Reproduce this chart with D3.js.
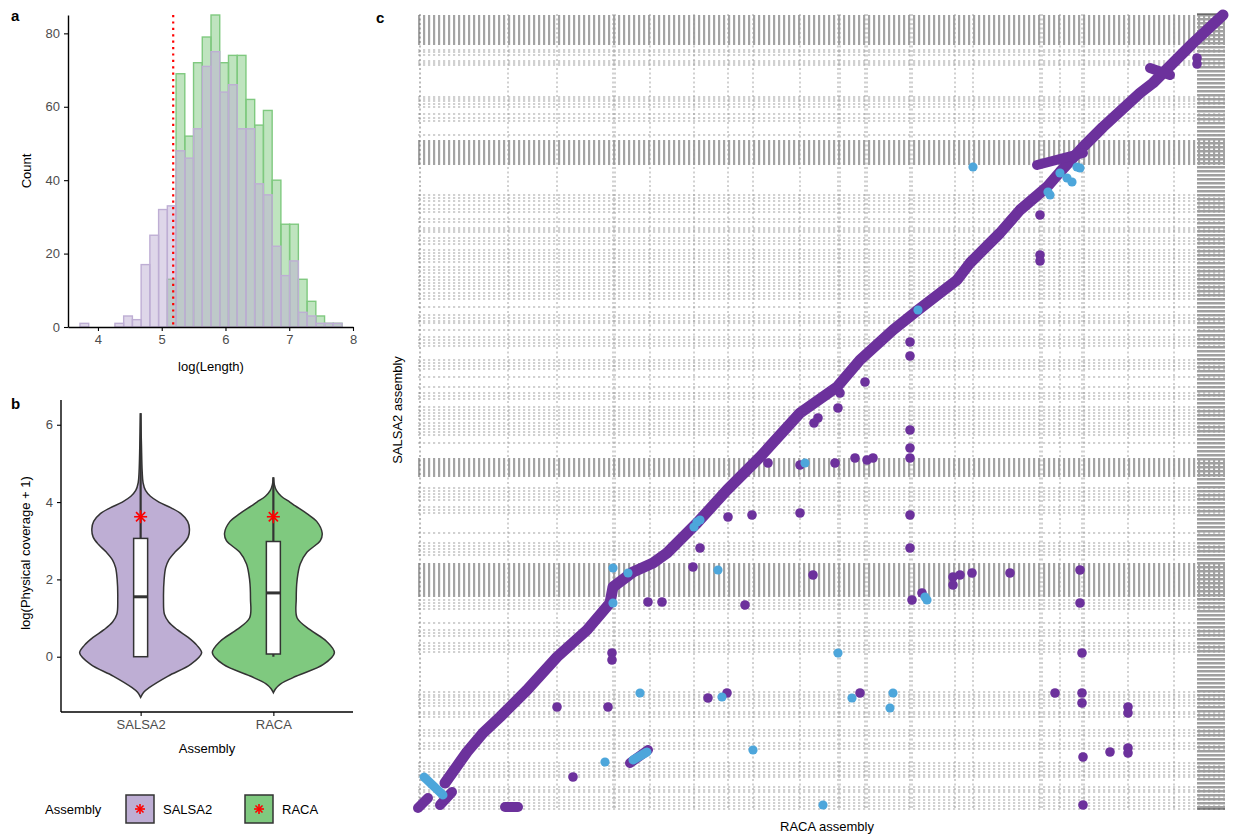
<!DOCTYPE html>
<html>
<head>
<meta charset="utf-8">
<script src="https://cdn.jsdelivr.net/npm/d3@7"></script>
<style>
  body { margin: 0; background: #fff; }
  svg { display: block; font-family: "Liberation Sans", Arial, sans-serif; }
</style>
</head>
<body>
<svg id="fig" width="1235" height="834"></svg>
<script>
// ---------- panel a: histogram of log(Length) ----------
const binStart = 3.718;
const binWidth = 0.137;
const salsaCounts = [1, 0, 0, 0, 1, 3, 2, 17, 25, 32, 33, 48, 46, 54, 71, 75, 64, 66, 54, 54, 39, 36, 22, 14, 18, 4, 3, 1, 1, 1];
const racaCounts  = [0, 0, 0, 0, 0, 0, 0, 0, 0, 0, 13, 69, 52, 72, 79, 85, 72, 74, 74, 62, 55, 59, 40, 28, 28, 13, 7, 3, 1, 1];
const cutoff = 5.18;
const histXTicks = [4, 5, 6, 7, 8];
const histYTicks = [0, 20, 40, 60, 80];

// ---------- panel b: violins of log(Physical coverage + 1) ----------
const assemblies = ['SALSA2', 'RACA'];
const salsaViolinY = [6.3, 5.5, 4.8, 4.5, 4.3, 4.15, 4.0, 3.85, 3.7, 3.5, 3.3, 3.1, 2.9, 2.7, 2.5, 2.3, 2.0, 1.5, 1.1, 0.9, 0.7, 0.5, 0.3, 0.1, -0.2, -0.5, -0.8, -0.92, -1.05];
const salsaViolinW = [0, 0.013, 0.025, 0.04, 0.08, 0.16, 0.3, 0.5, 0.66, 0.77, 0.8, 0.78, 0.69, 0.56, 0.46, 0.41, 0.385, 0.375, 0.39, 0.46, 0.6, 0.78, 0.92, 1.0, 0.82, 0.45, 0.14, 0.05, 0];
const racaViolinY = [4.64, 4.45, 4.3, 4.15, 4.0, 3.9, 3.7, 3.5, 3.2, 3.0, 2.7, 2.4, 2.0, 1.5, 1.0, 0.7, 0.4, 0.1, -0.2, -0.5, -0.7, -0.82, -0.93];
const racaViolinW = [0, 0.016, 0.05, 0.13, 0.27, 0.36, 0.55, 0.71, 0.8, 0.77, 0.55, 0.44, 0.39, 0.375, 0.39, 0.6, 0.87, 1.0, 0.82, 0.38, 0.12, 0.04, 0];
const boxQ1 = [0, 0.07];
const boxMedian = [1.55, 1.65];
const boxQ3 = [3.06, 2.98];
const whiskerLow = [0, 0];
const whiskerHigh = [6.3, 4.64];
const covMeans = [3.62, 3.62];
const covYTicks = [0, 2, 4, 6];

// ---------- panel c: dot plot RACA vs SALSA2 ----------
const racaBounds = [2, 90, 139, 195, 197, 232, 276, 310, 335, 382, 420, 422, 447, 449, 492, 494, 537, 555, 622, 624, 642, 664, 666, 710, 756];
const racaSmallBlock = [779, 807];
const salsaBounds = [760, 758, 755, 749, 747, 745, 713, 711, 709, 706, 703, 696, 692, 689, 675,
  615, 612, 609, 605, 601, 598, 591, 588, 582, 580, 578, 572, 569, 566, 560, 557, 554, 551, 548,
  543, 540, 537, 533, 530, 527, 524, 521, 517, 514, 511, 503, 495, 492, 489, 487, 480, 473, 470,
  467, 464, 450, 447, 444, 441, 433, 423, 417, 414, 411, 403, 400, 397, 394, 391, 387, 384, 381,
  378, 375, 367, 322, 319, 316, 313, 310, 303, 300, 297, 277, 267, 264, 261, 258, 255, 210, 207,
  204, 201, 187, 180, 177, 174, 167, 164, 161, 158, 118, 115, 113, 110, 107, 104, 98, 96, 93, 80,
  77, 74, 67, 64, 61, 47, 44, 41, 38, 35, 33, 23, 20, 18, 13, 10, 7, 4, 1];
const salsaSmallBlocks = [[765, 795], [645, 670], [333, 352], [213, 247]];

// main syntenic diagonal (RACA position, SALSA2 position)
const diagRaca  = [27, 49, 65, 82, 109, 139, 169, 192, 195, 215, 235, 249, 279, 309, 342, 382, 419, 442, 475, 500, 539, 552, 582, 602, 629, 642, 665, 685, 722, 735, 755, 775, 805];
const diagSalsa = [27, 58, 77, 93, 120, 153, 180, 207, 223, 238, 247, 257, 287, 320, 353, 397, 423, 450, 480, 500, 530, 547, 577, 600, 623, 638, 663, 683, 717, 727, 747, 767, 795];
// short blocks: [racaStart, salsaStart, racaEnd, salsaEnd]
const purpleBlocks = [[0, 2, 10, 12], [22, 5, 34, 18], [87, 3, 100, 3], [212, 47, 230, 60], [619, 645, 665, 657], [732, 742, 752, 735]];
const blueBlocks = [[6, 33, 25, 15], [215, 50, 229, 58]];
const purpleRaca = [155, 139, 190, 194, 194, 290, 309, 230, 244, 327, 282, 275, 395, 310, 334, 382, 492, 492, 350, 382, 417, 437, 449, 455, 492, 492, 492, 396, 400, 420, 422, 447, 492, 492, 494, 504, 535, 542, 535, 554, 592, 662, 662, 664, 442, 637, 664, 664, 710, 710, 692, 710, 710, 665, 665, 622, 622, 622, 779, 779];
const purpleSalsa = [33, 103, 103, 157, 150, 112, 117, 208, 208, 205, 262, 243, 235, 293, 295, 297, 295, 262, 347, 345, 347, 352, 350, 352, 352, 362, 380, 387, 392, 402, 417, 428, 468, 454, 210, 217, 233, 235, 225, 237, 237, 240, 207, 157, 117, 117, 117, 107, 103, 97, 58, 62, 57, 53, 5, 595, 555, 549, 752, 746];
const blueRaca = [195, 210, 195, 300, 187, 335, 222, 304, 420, 434, 475, 472, 405, 509, 507, 387, 279, 276, 282, 500, 555, 642, 649, 654, 659, 662, 630, 632];
const blueSalsa = [242, 237, 207, 240, 48, 60, 117, 113, 157, 112, 117, 102, 5, 210, 213, 347, 288, 283, 290, 500, 643, 637, 632, 628, 643, 642, 618, 615];

const svg = d3.select('#fig');
const tickGrey = '#4d4d4d';
const purpleFill = '#beaed4', greenFill = '#7fc97f';

function asterisk(g, cx, cy, r) {
  const a = r * Math.SQRT1_2;
  const segs = [[0, -r, 0, r], [-r, 0, r, 0], [-a, -a, a, a], [-a, a, a, -a]];
  g.selectAll(null).data(segs).join('line')
    .attr('x1', d => cx + d[0]).attr('y1', d => cy + d[1])
    .attr('x2', d => cx + d[2]).attr('y2', d => cy + d[3])
    .attr('stroke', 'red').attr('stroke-width', 1.6);
}

function styleAxis(g) {
  g.selectAll('.domain').attr('stroke', '#000').attr('stroke-width', 1.4);
  g.selectAll('.tick line').attr('stroke', '#000').attr('stroke-width', 1.1);
  g.selectAll('.tick text').attr('fill', tickGrey).style('font-size', '13px')
    .style('font-family', '"Liberation Sans", Arial, sans-serif');
}

// ================= panel a =================
(function () {
  const x = d3.scaleLinear().domain([3.53, 8]).range([68, 353]);
  const y = d3.scaleLinear().domain([0, 85]).range([327, 15]);
  const g = svg.append('g');

  const draw = (counts, fill) => {
    const bins = counts.map((c, i) => ({ c, x0: binStart + i * binWidth, x1: binStart + (i + 1) * binWidth }))
      .filter(b => b.c > 0);
    g.selectAll(null).data(bins).join('rect')
      .attr('x', d => x(d.x0))
      .attr('width', d => x(d.x1) - x(d.x0))
      .attr('y', d => y(d.c))
      .attr('height', d => y(0) - y(d.c))
      .attr('fill', fill).attr('fill-opacity', 0.5)
      .attr('stroke', fill).attr('stroke-width', 1.4);
  };
  draw(racaCounts, greenFill);
  draw(salsaCounts, purpleFill);

  g.append('line')
    .attr('x1', x(cutoff)).attr('x2', x(cutoff))
    .attr('y1', y(85)).attr('y2', y(0))
    .attr('stroke', 'red').attr('stroke-width', 2.2)
    .attr('stroke-dasharray', '2.2,4.2');

  const xa = g.append('g').attr('transform', 'translate(0,327)')
    .call(d3.axisBottom(x).tickValues(histXTicks).tickFormat(d3.format('d'))
      .tickSize(4).tickSizeOuter(0).tickPadding(4));
  styleAxis(xa);
  const ya = g.append('g').attr('transform', 'translate(68,0)')
    .call(d3.axisLeft(y).tickValues(histYTicks).tickSize(4).tickSizeOuter(0).tickPadding(4));
  styleAxis(ya);

  g.append('text').attr('x', 211).attr('y', 371).attr('text-anchor', 'middle')
    .style('font-size', '13px').text('log(Length)');
  g.append('text').attr('transform', 'translate(31,171) rotate(-90)').attr('text-anchor', 'middle')
    .style('font-size', '13px').text('Count');
  g.append('text').attr('x', 11).attr('y', 21).style('font-size', '15px').style('font-weight', 'bold').text('a');
})();

// ================= panel b =================
(function () {
  const x = d3.scalePoint().domain(assemblies).range([61, 353]).padding(0.6);
  const y = d3.scaleLinear().domain([-1.43, 6.64]).range([712, 400]);
  const w = d3.scaleLinear().domain([0, 1]).range([0, 61]);
  const g = svg.append('g');

  const violins = [
    { name: 'SALSA2', ys: salsaViolinY, ws: salsaViolinW, fill: purpleFill },
    { name: 'RACA', ys: racaViolinY, ws: racaViolinW, fill: greenFill }
  ];
  violins.forEach((v, k) => {
    const cx = x(v.name);
    const pts = v.ys.map((yy, i) => [yy, v.ws[i]]);
    const area = d3.area()
      .y(d => y(d[0]))
      .x0(d => cx - w(d[1]))
      .x1(d => cx + w(d[1]))
      .curve(d3.curveCatmullRom);
    g.append('path').datum(pts).attr('d', area)
      .attr('fill', v.fill).attr('stroke', '#333').attr('stroke-width', 1.5);

    // boxplot
    g.append('line').attr('x1', cx).attr('x2', cx)
      .attr('y1', y(whiskerHigh[k])).attr('y2', y(boxQ3[k]))
      .attr('stroke', '#333').attr('stroke-width', 2.2);
    g.append('line').attr('x1', cx).attr('x2', cx)
      .attr('y1', y(whiskerLow[k])).attr('y2', y(boxQ1[k]))
      .attr('stroke', '#333').attr('stroke-width', 2.2);
    g.append('rect').attr('x', cx - 7).attr('width', 14)
      .attr('y', y(boxQ3[k])).attr('height', y(boxQ1[k]) - y(boxQ3[k]))
      .attr('fill', '#fff').attr('stroke', '#333').attr('stroke-width', 1.5);
    g.append('line').attr('x1', cx - 7).attr('x2', cx + 7)
      .attr('y1', y(boxMedian[k])).attr('y2', y(boxMedian[k]))
      .attr('stroke', '#333').attr('stroke-width', 3);
    asterisk(g, cx, y(covMeans[k]), 6.5);
  });

  const xa = g.append('g').attr('transform', 'translate(0,712)')
    .call(d3.axisBottom(x).tickSize(4).tickSizeOuter(0).tickPadding(4));
  styleAxis(xa);
  xa.select('.domain').attr('d', 'M61,0H353');
  const ya = g.append('g').attr('transform', 'translate(61,0)')
    .call(d3.axisLeft(y).tickValues(covYTicks).tickSize(4).tickSizeOuter(0).tickPadding(4));
  styleAxis(ya);
  ya.select('.domain').attr('d', 'M0,400V712');

  g.append('text').attr('x', 207).attr('y', 753).attr('text-anchor', 'middle')
    .style('font-size', '13px').text('Assembly');
  g.append('text').attr('transform', 'translate(30,553) rotate(-90)').attr('text-anchor', 'middle')
    .style('font-size', '13px').text('log(Physical coverage + 1)');
  g.append('text').attr('x', 11).attr('y', 409).style('font-size', '15px').style('font-weight', 'bold').text('b');

  // legend
  const lg = svg.append('g');
  lg.append('text').attr('x', 45).attr('y', 814).style('font-size', '13px').text('Assembly');
  const keyX = [126, 245];
  assemblies.forEach((a, i) => {
    lg.append('rect').attr('x', keyX[i]).attr('y', 795).attr('width', 28).attr('height', 28)
      .attr('fill', violins[i].fill).attr('stroke', '#333').attr('stroke-width', 1.5);
    asterisk(lg, keyX[i] + 14, 809, 5);
    lg.append('text').attr('x', keyX[i] + 37).attr('y', 814).style('font-size', '13px').text(a);
  });
})();

// ================= panel c =================
(function () {
  const x = d3.scaleLinear().domain([0, 807]).range([418, 1225]);
  const y = d3.scaleLinear().domain([0, 796]).range([810, 14]);
  const g = svg.append('g');
  const gridCol = '#999';

  // dense clusters of short scaffolds
  salsaSmallBlocks.forEach(b => {
    g.append('line').attr('x1', x(0)).attr('x2', x(807))
      .attr('y1', y((b[0] + b[1]) / 2)).attr('y2', y((b[0] + b[1]) / 2))
      .attr('stroke', '#a4a4a4').attr('stroke-width', y(b[0]) - y(b[1]))
      .attr('stroke-dasharray', '2.2,2.8');
  });
  g.append('line')
    .attr('x1', x((racaSmallBlock[0] + racaSmallBlock[1]) / 2)).attr('x2', x((racaSmallBlock[0] + racaSmallBlock[1]) / 2))
    .attr('y1', y(796)).attr('y2', y(0))
    .attr('stroke', '#a0a0a0').attr('stroke-width', x(racaSmallBlock[1]) - x(racaSmallBlock[0]))
    .attr('stroke-dasharray', '2.6,1.4');

  g.selectAll(null).data(salsaBounds).join('line')
    .attr('x1', x(0)).attr('x2', x(807))
    .attr('y1', d => y(d)).attr('y2', d => y(d))
    .attr('stroke', gridCol).attr('stroke-width', 0.9)
    .attr('stroke-dasharray', '2.2,2.8');
  g.selectAll(null).data(racaBounds).join('line')
    .attr('x1', d => x(d)).attr('x2', d => x(d))
    .attr('y1', y(796)).attr('y2', y(0))
    .attr('stroke', (d, i) => i === 0 ? '#666' : gridCol).attr('stroke-width', 0.9)
    .attr('stroke-dasharray', '2,2.5');

  g.append('line').attr('x1', x(779)).attr('x2', x(807)).attr('y1', y(796)).attr('y2', y(796))
    .attr('stroke', '#333').attr('stroke-width', 1);
  g.append('line').attr('x1', x(779)).attr('x2', x(807)).attr('y1', y(1)).attr('y2', y(1))
    .attr('stroke', '#333').attr('stroke-width', 1);

  const purple = '#6c319c', blue = '#4da6db';
  const line = d3.line().x(d => x(d[0])).y(d => y(d[1]));
  g.append('path').datum(diagRaca.map((v, i) => [v, diagSalsa[i]]))
    .attr('d', line).attr('fill', 'none').attr('stroke', purple)
    .attr('stroke-width', 11).attr('stroke-linecap', 'round').attr('stroke-linejoin', 'round');
  const seg = (data, col, wdt) => g.selectAll(null).data(data).join('line')
    .attr('x1', d => x(d[0])).attr('y1', d => y(d[1]))
    .attr('x2', d => x(d[2])).attr('y2', d => y(d[3]))
    .attr('stroke', col).attr('stroke-width', wdt).attr('stroke-linecap', 'round');
  seg(purpleBlocks, purple, 10);
  g.selectAll(null).data(purpleRaca).join('circle')
    .attr('cx', d => x(d)).attr('cy', (d, i) => y(purpleSalsa[i])).attr('r', 4.8)
    .attr('fill', purple);
  seg(blueBlocks, blue, 9);
  g.selectAll(null).data(blueRaca).join('circle')
    .attr('cx', d => x(d)).attr('cy', (d, i) => y(blueSalsa[i])).attr('r', 4.6)
    .attr('fill', blue);

  g.append('text').attr('x', 827).attr('y', 831).attr('text-anchor', 'middle')
    .style('font-size', '13px').text('RACA assembly');
  g.append('text').attr('transform', 'translate(402,410) rotate(-90)').attr('text-anchor', 'middle')
    .style('font-size', '13px').text('SALSA2 assembly');
  g.append('text').attr('x', 376).attr('y', 23).style('font-size', '15px').style('font-weight', 'bold').text('c');
})();
</script>
</body>
</html>
